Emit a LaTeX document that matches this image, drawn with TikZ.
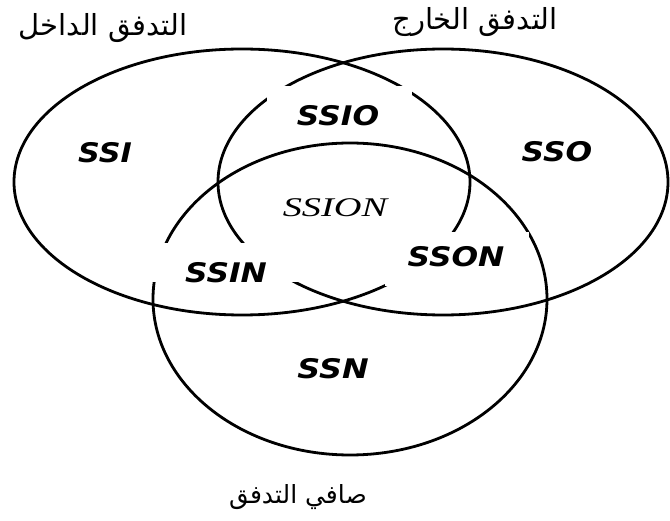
\documentclass[tikz,border=0pt]{standalone}
\usepackage{fontspec}
\usepackage{graphicx}
\TeXXeTstate=1
\newfontfamily\arabicfont[Script=Arabic]{DejaVu Sans}
\newfontfamily\labfont{DejaVu Sans}
\newfontfamily\serlabfont{Liberation Serif}
\begin{document}
\begin{tikzpicture}[x=1pt,y=-1pt,
  ring/.style={draw=black, line width=2.8pt},
  gap/.style={fill=white, draw=none},
  lab/.style={font=\labfont\bfseries\itshape\fontsize{27}{27}\selectfont, inner sep=0pt},
  serlab/.style={font=\serlabfont\itshape\fontsize{27}{27}\selectfont, inner sep=0pt},
  title/.style={font=\arabicfont\fontsize{29}{32}\selectfont, inner sep=0pt},
  subtitle/.style={font=\arabicfont\fontsize{25}{28}\selectfont, inner sep=0pt}]
\useasboundingbox (0,0) rectangle (670,521);
% three flow sets
\draw[ring] (242,182) ellipse [x radius=228, y radius=133];
\draw[ring] (443,182) ellipse [x radius=225, y radius=133];
\draw[ring] (350,299) ellipse [x radius=197, y radius=156];
% white patches behind labels
\fill[gap] (267,86) rectangle (412,140);
\fill[gap] (140,243) rectangle (301,282);
\fill[gap] (385,232) rectangle (529,286);
% region labels
\node[lab] (ssi) at (105,153) {\scalebox{1.12}[1]{SSI}};
\node[lab] (sso) at (557,152) {\scalebox{1.16}[1]{SSO}};
\node[lab] (ssio) at (338,116) {\scalebox{1.16}[1]{SSIO}};
\node[serlab] (ssion) at (335,208) {\scalebox{1.42}[1]{SSION}};
\node[lab] (ssin) at (226,273) {\scalebox{1.16}[1]{SSIN}};
\node[lab] (sson) at (456,257) {\scalebox{1.16}[1]{SSON}};
\node[lab] (ssn) at (333,369) {\scalebox{1.18}[1]{SSN}};
% set titles
\node[title] (inflow) at (103,28) {\beginR التدفق الداخل\endR};
\node[title] (outflow) at (475,22) {\beginR التدفق الخارج\endR};
\node[subtitle] (netflow) at (298,497) {\beginR صافي التدفق\endR};
\end{tikzpicture}
\end{document}
